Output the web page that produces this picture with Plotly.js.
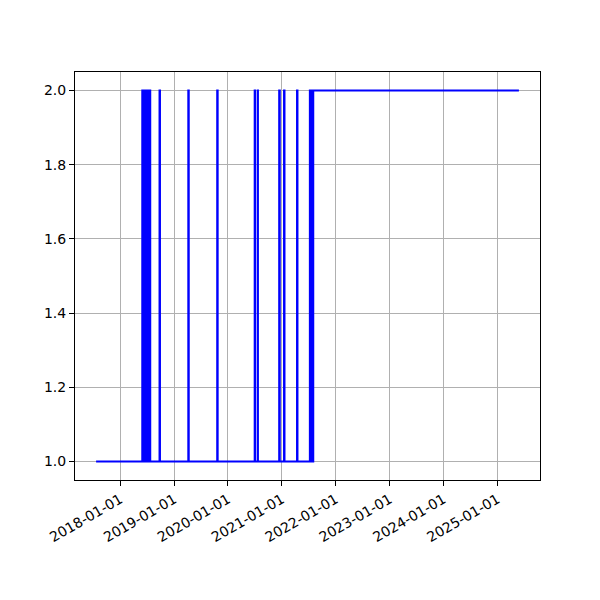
<!DOCTYPE html>
<html>
<head>
<meta charset="utf-8">
<script src="https://cdn.plot.ly/plotly-3.0.1.min.js"></script>
<style>html,body{margin:0;padding:0;background:#fff;}#chart{width:600px;height:600px;}</style>
</head>
<body>
<div id="chart"></div>
<script>
// change points of the step series (value holds until next date)
const dates = [
  "2017-07-21",
  "2018-05-30","2018-06-03","2018-06-05","2018-06-08","2018-06-10","2018-06-14",
  "2018-06-16","2018-06-19","2018-06-22","2018-06-25","2018-06-27","2018-07-01",
  "2018-07-03","2018-07-06","2018-07-09","2018-07-12","2018-07-14","2018-07-17",
  "2018-07-19","2018-07-23",
  "2018-09-24","2018-09-27",
  "2019-04-07","2019-04-10",
  "2019-10-20","2019-10-23",
  "2020-06-30","2020-07-02","2020-07-20","2020-07-22",
  "2020-12-13","2020-12-17",
  "2021-01-15","2021-01-18",
  "2021-04-13","2021-04-16",
  "2021-07-09","2021-07-13","2021-07-17","2021-07-21","2021-07-25","2021-07-28",
  "2021-08-01",
  "2025-05-26"
];
const values = [
  1,
  2,1,2,1,2,1,
  2,1,2,1,2,1,
  2,1,2,1,2,1,
  2,1,
  2,1,
  2,1,
  2,1,
  2,1,2,1,
  2,1,
  2,1,
  2,1,
  2,1,2,1,2,1,
  2,
  2
];
const xTickVals = ["2018-01-01","2019-01-01","2020-01-01","2021-01-01","2022-01-01","2023-01-01","2024-01-01","2025-01-01"];
const xTickText = ["2018-01-01","2019-01-01","2020-01-01","2021-01-01","2022-01-01","2023-01-01","2024-01-01","2025-01-01"];
const yTickVals = [1.0,1.2,1.4,1.6,1.8,2.0];
const yTickText = ["1.0","1.2","1.4","1.6","1.8","2.0"];

const trace = {
  x: dates, y: values, type: "scatter", mode: "lines",
  line: {color: "#0000ff", width: 2, shape: "hv"},
  hoverinfo: "skip"
};
const font = {family: "DejaVu Sans, sans-serif", size: 14, color: "#000"};
const layout = {
  width: 600, height: 600,
  margin: {l: 75, r: 60, t: 72, b: 120},
  paper_bgcolor: "#fff", plot_bgcolor: "#fff",
  showlegend: false,
  font: font,
  xaxis: {
    type: "date",
    range: ["2017-02-28", "2025-10-16"],
    tickvals: xTickVals, ticktext: xTickText,
    tickangle: -30,
    ticks: "outside", ticklen: 5, tickwidth: 1, tickcolor: "#000",
    showgrid: true, gridcolor: "#b0b0b0", gridwidth: 1,
    showline: true, linecolor: "#000", linewidth: 1, mirror: true,
    zeroline: false, tickfont: font
  },
  yaxis: {
    range: [0.95, 2.05],
    tickvals: yTickVals, ticktext: yTickText,
    ticks: "outside", ticklen: 5, tickwidth: 1, tickcolor: "#000",
    showgrid: true, gridcolor: "#b0b0b0", gridwidth: 1,
    showline: true, linecolor: "#000", linewidth: 1, mirror: true,
    zeroline: false, tickfont: font
  }
};
Plotly.newPlot("chart", [trace], layout, {staticPlot: true, displayModeBar: false});
</script>
</body>
</html>
